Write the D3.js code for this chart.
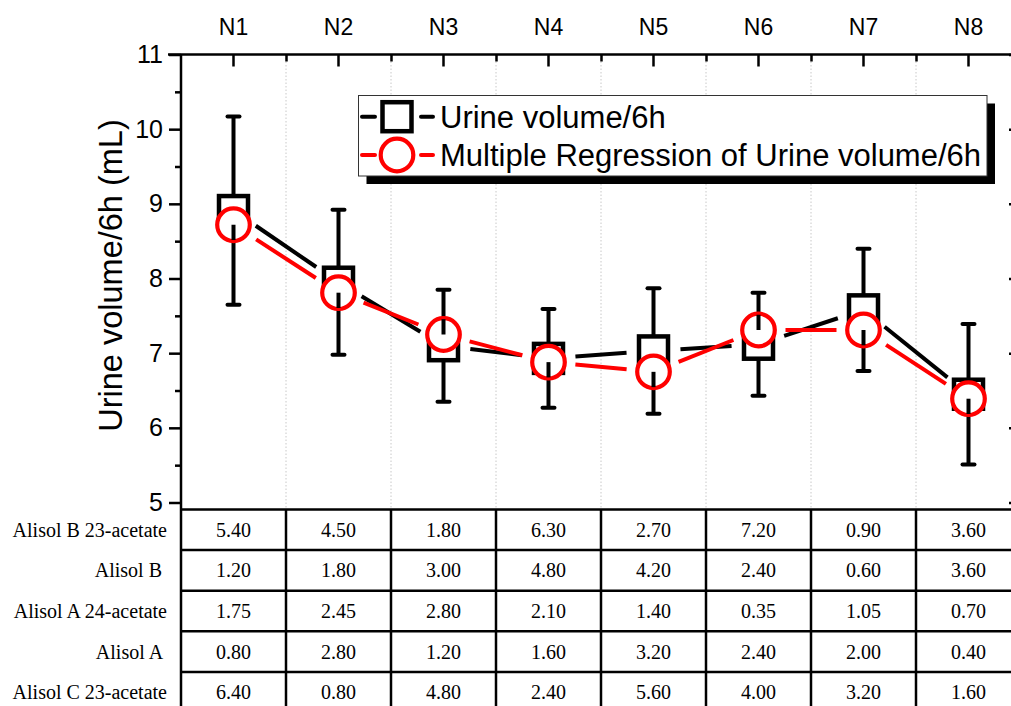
<!DOCTYPE html>
<html>
<head>
<meta charset="utf-8">
<script src="https://cdn.jsdelivr.net/npm/d3@7/dist/d3.min.js"></script>
<style>
  html, body { margin: 0; padding: 0; background: #fff; }
  svg { display: block; }
  text { white-space: pre; }
</style>
</head>
<body>
<svg id="chart" width="1011" height="706"></svg>
<script>
// Groups N1–N8
const categories = ["N1", "N2", "N3", "N4", "N5", "N6", "N7", "N8"];
// Measured urine volume over 6 h (mean ± SD, mL)
const urineMean = [8.91, 7.95, 7.10, 6.93, 7.03, 7.12, 7.58, 6.45];
const urineSD   = [1.26, 0.97, 0.75, 0.66, 0.84, 0.69, 0.82, 0.94];
// Multiple-regression prediction of urine volume over 6 h (mL)
const regression = [8.72, 7.81, 7.25, 6.88, 6.75, 7.31, 7.31, 6.39];
// Y-axis ticks
const yMajorTicks = [5, 6, 7, 8, 9, 10, 11];
const yMinorTicks = [5.5, 6.5, 7.5, 8.5, 9.5, 10.5];
// Dose table below the chart
const compounds = ["Alisol B 23-acetate", "Alisol B ", "Alisol A 24-acetate", "Alisol A ", "Alisol C 23-acetate"];
const doseB23 = ["5.40", "4.50", "1.80", "6.30", "2.70", "7.20", "0.90", "3.60"];
const doseB   = ["1.20", "1.80", "3.00", "4.80", "4.20", "2.40", "0.60", "3.60"];
const doseA24 = ["1.75", "2.45", "2.80", "2.10", "1.40", "0.35", "1.05", "0.70"];
const doseA   = ["0.80", "2.80", "1.20", "1.60", "3.20", "2.40", "2.00", "0.40"];
const doseC23 = ["6.40", "0.80", "4.80", "2.40", "5.60", "4.00", "3.20", "1.60"];
const doseRows = [doseB23, doseB, doseA24, doseA, doseC23];
const legendLabels = ["Urine volume/6h", "Multiple Regression of Urine volume/6h"];

const sans = "'Liberation Sans', Arial, sans-serif";
const serif = "'Liberation Serif', 'Times New Roman', serif";

const plotLeft = 181, plotRight = 1021, plotTop = 54.5, plotBottom = 502.5;
const tableTop = 509.5, rowH = 40.6;

const svg = d3.select("#chart");

const x = d3.scaleBand().domain(categories).range([plotLeft, plotRight]);
const xi = d3.scaleLinear().domain([0, categories.length]).range([plotLeft, plotRight]);
const y = d3.scaleLinear().domain([5, 11]).range([plotBottom, plotTop]);
const cx = d => x(d) + x.bandwidth() / 2;

// dotted vertical grid at group boundaries
svg.append("g").selectAll("line")
  .data(d3.range(1, categories.length))
  .join("line")
  .attr("x1", d => xi(d)).attr("x2", d => xi(d))
  .attr("y1", plotTop).attr("y2", tableTop)
  .attr("stroke", "#c8c8c8").attr("stroke-width", 1)
  .attr("stroke-dasharray", "1.5,2");

function styleAxis(g) {
  g.select(".domain").remove();
  g.selectAll(".tick line").attr("stroke", "#000").attr("stroke-width", 2.5);
}

// left axis: major ticks with labels, minor ticks
svg.append("g").attr("transform", `translate(${plotLeft},0)`)
  .call(d3.axisLeft(y).tickValues(yMajorTicks).tickSize(12).tickPadding(6).tickFormat(d3.format("d")))
  .call(styleAxis)
  .call(g => g.selectAll("text").attr("font-family", sans).attr("font-size", 25).attr("fill", "#000"));
svg.append("g").attr("transform", `translate(${plotLeft},0)`)
  .call(d3.axisLeft(y).tickValues(yMinorTicks).tickSize(6).tickFormat(""))
  .call(styleAxis);

// right axis: inward ticks only
svg.append("g").attr("transform", `translate(${plotRight},0)`)
  .call(d3.axisRight(y).tickValues(yMajorTicks).tickSizeInner(-12).tickSizeOuter(0).tickFormat(""))
  .call(styleAxis);

// top axis: group labels, inward ticks
svg.append("g").attr("transform", `translate(0,${plotTop})`)
  .call(d3.axisTop(x).tickSizeInner(-12).tickSizeOuter(0).tickPadding(20))
  .call(styleAxis)
  .call(g => g.selectAll("text").attr("font-family", sans).attr("font-size", 23).attr("fill", "#000"));
svg.append("g").attr("transform", `translate(0,${plotTop})`)
  .call(d3.axisTop(xi).tickValues(d3.range(1, categories.length)).tickSizeInner(-7).tickSizeOuter(0).tickFormat(""))
  .call(styleAxis);

// axis frame lines
svg.append("line").attr("x1", plotLeft - 13).attr("x2", plotRight).attr("y1", plotTop).attr("y2", plotTop)
  .attr("stroke", "#000").attr("stroke-width", 2.5);
svg.append("line").attr("x1", plotLeft).attr("x2", plotLeft).attr("y1", plotTop).attr("y2", 720)
  .attr("stroke", "#000").attr("stroke-width", 2.5);

// y-axis title
svg.append("text")
  .attr("transform", `translate(122,${(plotTop + plotBottom) / 2 - 3}) rotate(-90)`)
  .attr("text-anchor", "middle")
  .attr("font-family", sans).attr("font-size", 32.5)
  .text("Urine volume/6h (mL)");

// table grid
svg.append("g").selectAll("line")
  .data(d3.range(0, compounds.length + 1))
  .join("line")
  .attr("x1", plotLeft).attr("x2", plotRight)
  .attr("y1", d => tableTop + d * rowH).attr("y2", d => tableTop + d * rowH)
  .attr("stroke", "#000").attr("stroke-width", 2.5);
svg.append("g").selectAll("line")
  .data(d3.range(1, categories.length + 1))
  .join("line")
  .attr("x1", d => xi(d)).attr("x2", d => xi(d))
  .attr("y1", tableTop).attr("y2", tableTop + compounds.length * rowH)
  .attr("stroke", "#000").attr("stroke-width", 2.5);

// table row labels
svg.append("g").selectAll("text")
  .data(compounds)
  .join("text")
  .attr("x", 167)
  .attr("y", (d, i) => tableTop + (i + 0.5) * rowH + 7)
  .attr("text-anchor", "end")
  .attr("font-family", serif).attr("font-size", 20)
  .text(d => d);

// table values
doseRows.forEach((row, r) => {
  svg.append("g").selectAll("text")
    .data(row)
    .join("text")
    .attr("x", (d, i) => cx(categories[i]))
    .attr("y", tableTop + (r + 0.5) * rowH + 7)
    .attr("text-anchor", "middle")
    .attr("font-family", serif).attr("font-size", 20)
    .text(d => d);
});

// connecting lines with a gap around each symbol
const gap = 27;
function gappedSegments(values) {
  const segs = [];
  for (let i = 0; i < values.length - 1; i++) {
    const x1 = cx(categories[i]), y1 = y(values[i]);
    const x2 = cx(categories[i + 1]), y2 = y(values[i + 1]);
    const len = Math.hypot(x2 - x1, y2 - y1);
    const ux = (x2 - x1) / len, uy = (y2 - y1) / len;
    segs.push({ x1: x1 + ux * gap, y1: y1 + uy * gap, x2: x2 - ux * gap, y2: y2 - uy * gap });
  }
  return segs;
}
function drawSegments(values, color) {
  svg.append("g").selectAll("line")
    .data(gappedSegments(values))
    .join("line")
    .attr("x1", d => d.x1).attr("y1", d => d.y1)
    .attr("x2", d => d.x2).attr("y2", d => d.y2)
    .attr("stroke", color).attr("stroke-width", 4);
}

drawSegments(urineMean, "#000");

// error bars (mean ± SD)
const eb = svg.append("g");
categories.forEach((c, i) => {
  const hi = y(urineMean[i] + urineSD[i]), lo = y(urineMean[i] - urineSD[i]);
  eb.append("line").attr("x1", cx(c)).attr("x2", cx(c)).attr("y1", hi).attr("y2", lo)
    .attr("stroke", "#000").attr("stroke-width", 4);
  [hi, lo].forEach(v => eb.append("line")
    .attr("x1", cx(c) - 6).attr("x2", cx(c) + 6).attr("y1", v).attr("y2", v)
    .attr("stroke", "#000").attr("stroke-width", 4).attr("stroke-linecap", "round"));
});

// square symbols for measured means
const sq = 29;
svg.append("g").selectAll("rect")
  .data(urineMean)
  .join("rect")
  .attr("x", (d, i) => cx(categories[i]) - sq / 2)
  .attr("y", d => y(d) - sq / 2)
  .attr("width", sq).attr("height", sq)
  .attr("fill", "#fff").attr("stroke", "#000").attr("stroke-width", 4.5);

drawSegments(regression, "#ff0000");

// circle symbols for regression values
const rad = 16.3;
svg.append("g").selectAll("circle")
  .data(regression)
  .join("circle")
  .attr("cx", (d, i) => cx(categories[i]))
  .attr("cy", d => y(d))
  .attr("r", rad)
  .attr("fill", "#fff").attr("stroke", "#ff0000").attr("stroke-width", 4.2);

// error-bar stroke continuing through the circle on the side away from the mean
svg.append("g").selectAll("line")
  .data(regression)
  .join("line")
  .attr("x1", (d, i) => cx(categories[i])).attr("x2", (d, i) => cx(categories[i]))
  .attr("y1", d => y(d))
  .attr("y2", (d, i) => d < urineMean[i] ? y(d) + rad - 1 : y(d) - rad + 1)
  .attr("stroke", "#000").attr("stroke-width", 4);

// legend
const lg = svg.append("g");
const lx = 358.5, ly = 95.5, lw = 628.5, lh = 80.5;
lg.append("rect").attr("x", lx + 8).attr("y", ly + 8).attr("width", lw).attr("height", lh).attr("fill", "#000");
lg.append("rect").attr("x", lx).attr("y", ly).attr("width", lw).attr("height", lh)
  .attr("fill", "#fff").attr("stroke", "#333").attr("stroke-width", 1);
const rows = [116.7, 155];
const symX = 397;
rows.forEach((ry, k) => {
  const color = k === 0 ? "#000" : "#ff0000";
  lg.append("line").attr("x1", 362).attr("x2", 375).attr("y1", ry).attr("y2", ry)
    .attr("stroke", color).attr("stroke-width", 4).attr("stroke-linecap", "round");
  lg.append("line").attr("x1", 421).attr("x2", 433).attr("y1", ry).attr("y2", ry)
    .attr("stroke", color).attr("stroke-width", 4).attr("stroke-linecap", "round");
  if (k === 0) {
    lg.append("rect").attr("x", symX - sq / 2).attr("y", ry - sq / 2).attr("width", sq).attr("height", sq)
      .attr("fill", "#fff").attr("stroke", "#000").attr("stroke-width", 4.5);
  } else {
    lg.append("circle").attr("cx", symX).attr("cy", ry).attr("r", rad)
      .attr("fill", "#fff").attr("stroke", "#ff0000").attr("stroke-width", 4.2);
  }
  lg.append("text").attr("x", 440).attr("y", ry + 11)
    .attr("font-family", sans).attr("font-size", 31)
    .text(legendLabels[k]);
});
</script>
</body>
</html>
